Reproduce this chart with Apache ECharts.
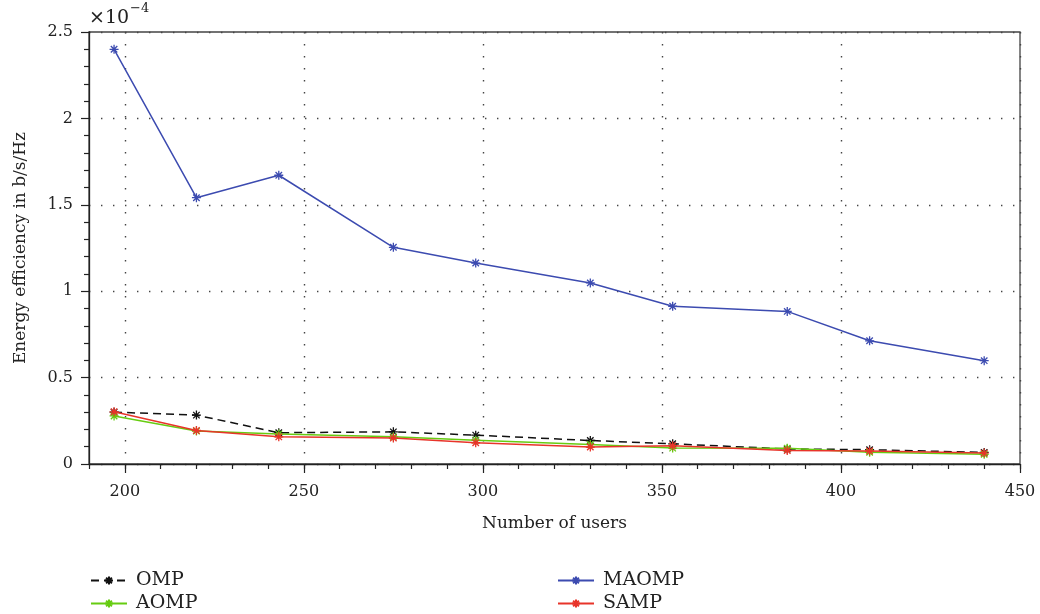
<!DOCTYPE html>
<html>
<head>
<meta charset="utf-8">
<script src="https://cdn.jsdelivr.net/npm/echarts@6/dist/echarts.min.js"></script>
<style>html,body{margin:0;padding:0;background:#fff}#c{width:1040px;height:614px}</style>
</head>
<body>
<div id="c"></div>
<script>
// Data (energy efficiency in units of 1e-4 b/s/Hz)
const users = [197, 220, 243, 275, 298, 330, 353, 385, 408, 440];
const omp   = [0.300, 0.283, 0.181, 0.186, 0.167, 0.136, 0.117, 0.087, 0.083, 0.067];
const aomp  = [0.278, 0.191, 0.173, 0.157, 0.138, 0.113, 0.092, 0.091, 0.068, 0.056];
const maomp = [2.40, 1.541, 1.671, 1.254, 1.163, 1.048, 0.913, 0.883, 0.713, 0.598];
const samp  = [0.302, 0.194, 0.157, 0.150, 0.123, 0.098, 0.106, 0.078, 0.075, 0.063];
const xMajor = [200, 250, 300, 350, 400, 450];
const yMajor = [0, 0.5, 1, 1.5, 2, 2.5];

const FONT = '"DejaVu Serif", "Liberation Serif", serif';
const STAR = 'path://M0,-5L0,5M-5,0L5,0M-3.6,-3.6L3.6,3.6M-3.6,3.6L3.6,-3.6';
const pairs = ys => users.map((u, i) => [u, ys[i]]);
const DOTS = { color: '#444', type: [1.4, 10.6], width: 1.4 };

function mkSeries(name, ys, color, dashed, z) {
  return {
    name: name, type: 'line', data: pairs(ys), z: z,
    symbol: STAR, symbolSize: 9, showSymbol: true,
    xAxisIndex: 0, yAxisIndex: 0,
    lineStyle: { color: color, width: 1.5, type: dashed ? [8, 5] : 'solid' },
    itemStyle: { color: color, borderColor: color, borderWidth: 1.3 },
    emphasis: { disabled: true }, animation: false
  };
}
function mkLegend(name, left, top) {
  return {
    data: [name], left: left, top: top, orient: 'horizontal',
    itemWidth: 36, itemHeight: 10,
    textStyle: { fontFamily: FONT, fontSize: 19, color: '#222', padding: [0, 0, 0, 4] }
  };
}

const chart = echarts.init(document.getElementById('c'), null, { renderer: 'canvas' });
chart.setOption({
  animation: false,
  backgroundColor: '#fff',
  grid: { left: 89, right: 20, top: 32, bottom: 150, show: true, borderColor: '#444', borderWidth: 1.3, backgroundColor: 'transparent' },
  graphic: [{
    type: 'text', left: 89, top: 2,
    style: { text: '{a|×10}{b|−4}', rich: {
      a: { fontFamily: FONT, fontSize: 19, fill: '#222', verticalAlign: 'bottom', lineHeight: 26 },
      b: { fontFamily: FONT, fontSize: 13, fill: '#222', verticalAlign: 'top', lineHeight: 26, padding: [0, 0, 13, 1] }
    } }
  }],
  xAxis: [{
    type: 'value', min: 190, max: 450, position: 'bottom',
    name: 'Number of users', nameLocation: 'middle', nameGap: 51,
    nameTextStyle: { fontFamily: FONT, fontSize: 17, color: '#222' },
    axisLine: { show: true, onZero: false, lineStyle: { color: '#222', width: 1.3 } },
    axisTick: { show: true, inside: false, length: 9, customValues: xMajor, lineStyle: { color: '#222', width: 1.2 } },
    axisLabel: { customValues: xMajor, margin: 20, fontFamily: FONT, fontSize: 16, color: '#222' },
    splitLine: { show: true, lineStyle: DOTS }
  }, {
    type: 'value', min: 190, max: 450, interval: 10, position: 'bottom',
    axisLine: { show: false }, axisLabel: { show: false }, splitLine: { show: false },
    axisTick: { show: true, length: 5, lineStyle: { color: '#222', width: 1.2 } }
  }],
  yAxis: [{
    type: 'value', min: 0, max: 2.5, interval: 0.5,
    name: 'Energy efficiency in b/s/Hz', nameLocation: 'middle', nameGap: 60, nameRotate: 90,
    nameTextStyle: { fontFamily: FONT, fontSize: 17, color: '#222' },
    axisLine: { show: true, onZero: false, lineStyle: { color: '#222', width: 1.3 } },
    axisTick: { show: true, length: 8, lineStyle: { color: '#222', width: 1.2 } },
    minorTick: { show: true, splitNumber: 5, length: 5, lineStyle: { color: '#222', width: 1.2 } },
    axisLabel: { margin: 16, fontFamily: FONT, fontSize: 16, color: '#222',
      formatter: v => (yMajor.indexOf(v) >= 0 ? String(v) : '') },
    splitLine: { show: true, lineStyle: DOTS }
  }],
  legend: [
    mkLegend('OMP', 85, 566),
    mkLegend('AOMP', 85, 589),
    mkLegend('MAOMP', 552, 566),
    mkLegend('SAMP', 552, 589)
  ],
  series: [
    mkSeries('OMP', omp, '#111111', true, 3),
    mkSeries('MAOMP', maomp, '#3c4bb0', false, 2),
    mkSeries('AOMP', aomp, '#66cc11', false, 4),
    mkSeries('SAMP', samp, '#e8342a', false, 5)
  ]
});
</script>
</body>
</html>
